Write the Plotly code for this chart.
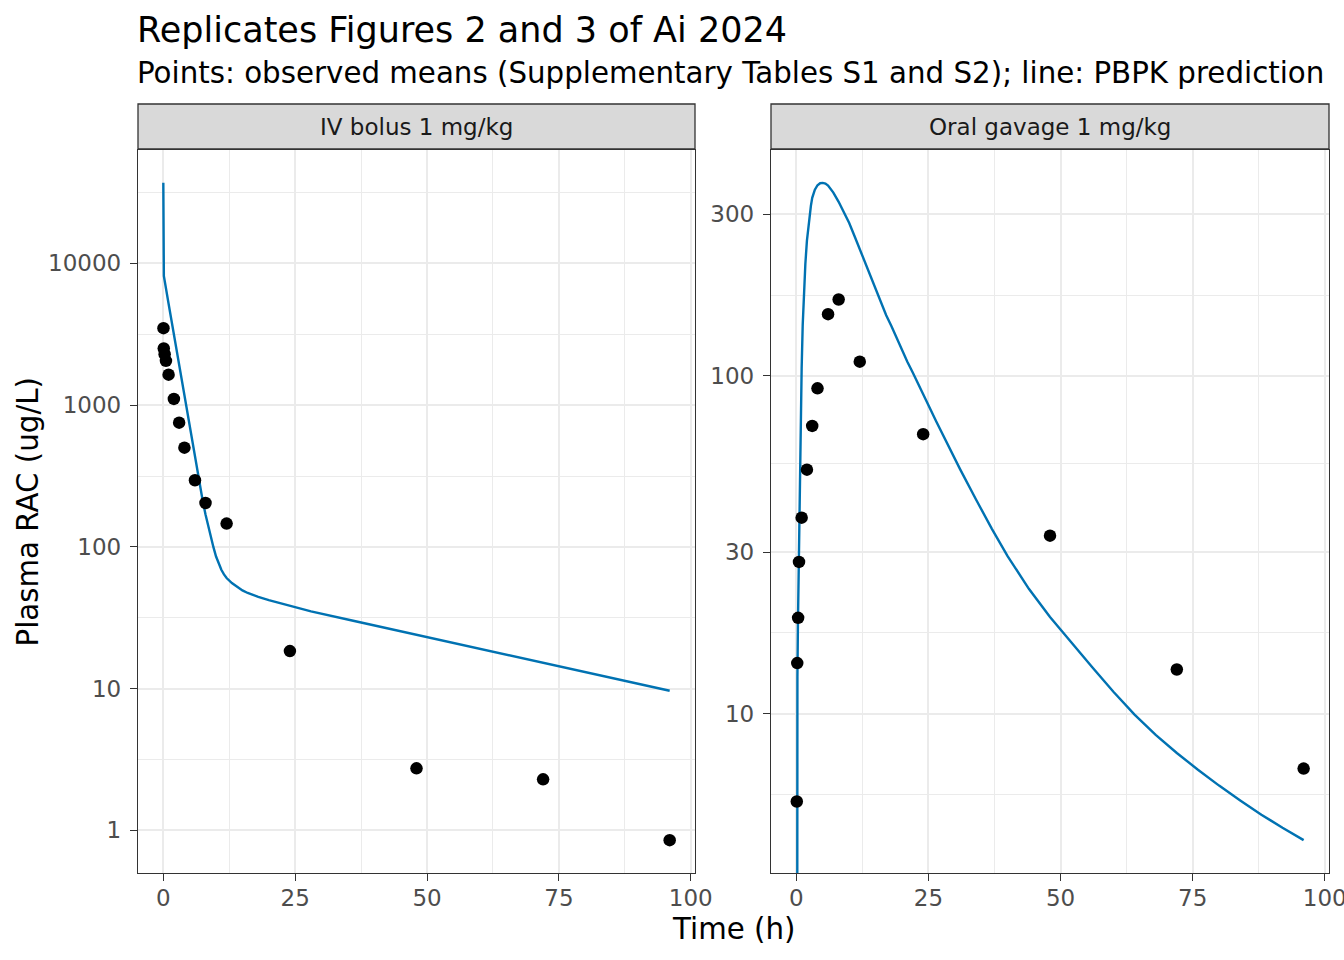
import math

import plotly.graph_objects as go


# observed means (Supplementary Tables S1 and S2)
iv_obs_time = [0.033, 0.083, 0.25, 0.5, 1, 2, 3, 4, 6, 8, 12, 24, 48, 72, 96]
iv_obs_conc = [3490, 2510, 2290, 2055, 1640, 1107, 752, 501, 295, 204, 146, 18.4, 2.74, 2.29, 0.853]

oral_obs_time = [0.083, 0.167, 0.333, 0.5, 1, 2, 3, 4, 6, 8, 12, 24, 48, 72, 96]
oral_obs_conc = [5.49, 14.1, 19.2, 28.1, 38.0, 52.7, 71.0, 91.7, 152, 168, 110, 67.1, 33.6, 13.5, 6.87]

# PBPK prediction
iv_pred_time = [0, 0.1, 1, 2, 3, 4, 5, 6, 7, 7.5, 8, 8.5, 9, 9.5, 10, 10.5, 11, 11.5, 12,
                13, 14, 15, 16, 17, 18, 20, 22, 25, 28, 36, 48, 60, 72, 84, 96]
iv_pred_conc = [37000, 8150, 5190, 3140, 1900, 1151, 692, 422, 260, 208, 169, 140, 117.5,
                99.5, 85.5, 75.9, 68.9, 64.0, 60.3, 55.6, 52.0, 49.3, 47.3, 45.7, 44.4,
                42.1, 40.2, 37.8, 35.1, 30.1, 24.0, 19.1, 15.2, 12.1, 9.66]

oral_pred_time = [0, 0.1, 0.2, 0.3, 0.45, 0.6, 0.75, 0.9, 1.0, 1.2, 1.4, 1.7, 2.0, 2.25,
                  2.5, 2.75, 3.0, 3.5, 4.0, 4.5, 5, 5.5, 6, 6.5, 7, 8, 9, 10, 11, 12, 13,
                  14, 15, 16, 17, 18, 19, 20, 21, 22, 23.5, 25, 26.5, 28, 31, 34, 37, 40,
                  44, 48, 52, 56, 60, 64, 68, 72, 76, 80, 84, 88, 92, 96]
oral_pred_conc = [0, 5.75, 12.9, 18.6, 28.2, 39.8, 60.3, 89.1, 105, 141, 176, 214, 251,
                  275, 299, 318, 336, 355, 366, 371, 372, 370, 365, 356, 348, 327, 305,
                  283, 259, 237, 216, 197, 179.5, 164, 151, 140, 129, 119, 110, 102.3,
                  91.0, 81.7, 73.0, 65.5, 52.8, 43.0, 35.2, 29.2, 23.4, 19.3, 16.2, 13.7,
                  11.6, 9.93, 8.65, 7.64, 6.82, 6.12, 5.53, 5.02, 4.59, 4.22]

panel_titles = ["IV bolus 1 mg/kg", "Oral gavage 1 mg/kg"]
x_ticks = [0, 25, 50, 75, 100]
x_minor = [12.5, 37.5, 62.5, 87.5]
iv_y_ticks = [1, 10, 100, 1000, 10000]
oral_y_ticks = [10, 30, 100, 300]

W, H = 1344, 960
BLUE = "#0072B2"
GRID = "#EBEBEB"
DARK = "#333333"
FONT = "DejaVu Sans"


def px(x):
    return x / W


def py(y):
    return 1 - y / H


def log_range(values):
    # ggplot-style 5% expansion on the log scale
    lv = [math.log10(v) for v in values if v > 0]
    lo, hi = min(lv), max(lv)
    pad = 0.05 * (hi - lo)
    return [lo - pad, hi + pad]


def minor_logs(ticks, rng):
    # midpoints in log space between major breaks, extended by one on each side
    lt = [math.log10(t) for t in ticks]
    lt = [2 * lt[0] - lt[1]] + lt + [2 * lt[-1] - lt[-2]]
    mids = [(a + b) / 2 for a, b in zip(lt[:-1], lt[1:])]
    return [10 ** m for m in mids if rng[0] <= m <= rng[1]]


def lin_range(values):
    lo, hi = min(values), max(values)
    pad = 0.05 * (hi - lo)
    return [lo - pad, hi + pad]


iv_yr = log_range(iv_obs_conc + iv_pred_conc)
oral_yr = log_range(oral_obs_conc + oral_pred_conc)
xr = lin_range(iv_obs_time + iv_pred_time)

left_dom = [px(138), px(695)]
right_dom = [px(771), px(1329)]
y_dom = [py(873), py(150)]
strip_y = [py(149), py(104)]


def floor0(vals):
    # zeros go to -Inf on a log scale, drawn at the panel edge
    return [v if v > 0 else 1e-4 for v in vals]


fig = go.Figure()
fig.add_trace(go.Scatter(x=iv_pred_time, y=floor0(iv_pred_conc), mode="lines",
                         line=dict(color=BLUE, width=2.4), xaxis="x", yaxis="y",
                         showlegend=False))
fig.add_trace(go.Scatter(x=iv_obs_time, y=iv_obs_conc, mode="markers",
                         marker=dict(color="black", size=12.5), xaxis="x", yaxis="y",
                         showlegend=False))
fig.add_trace(go.Scatter(x=oral_pred_time, y=floor0(oral_pred_conc), mode="lines",
                         line=dict(color=BLUE, width=2.4), xaxis="x2", yaxis="y2",
                         showlegend=False))
fig.add_trace(go.Scatter(x=oral_obs_time, y=oral_obs_conc, mode="markers",
                         marker=dict(color="black", size=12.5), xaxis="x2", yaxis="y2",
                         showlegend=False))

tickfont = dict(family=FONT, size=23, color="#4D4D4D")


def x_axis(dom, anchor):
    return dict(domain=dom, anchor=anchor, range=xr, tickmode="array",
                tickvals=x_ticks, ticktext=[str(t) for t in x_ticks],
                ticks="outside", ticklen=7, tickwidth=1.3, tickcolor=DARK,
                tickfont=tickfont, showgrid=True, gridcolor=GRID, gridwidth=2.4,
                minor=dict(tickmode="array", tickvals=x_minor, showgrid=True,
                           gridcolor=GRID, gridwidth=1.2, ticks=""),
                showline=True, linecolor=DARK, linewidth=1.3, mirror=True,
                zeroline=False, automargin=False, ticklabelstandoff=-3,
                ticklabeloverflow="allow")


def y_axis(dom, anchor, ticks, rng):
    return dict(domain=dom, anchor=anchor, type="log", range=rng, tickmode="array",
                tickvals=ticks, ticktext=[str(t) for t in ticks],
                ticks="outside", ticklen=7, tickwidth=1.3, tickcolor=DARK,
                tickfont=tickfont, showgrid=True, gridcolor=GRID, gridwidth=2.4,
                minor=dict(tickmode="array", tickvals=minor_logs(ticks, rng),
                           showgrid=True, gridcolor=GRID, gridwidth=1.2, ticks=""),
                showline=True, linecolor=DARK, linewidth=1.3, mirror=True,
                zeroline=False, automargin=False, ticklabelstandoff=4)


shapes = []
annotations = []
for dom, label in zip([left_dom, right_dom], panel_titles):
    shapes.append(dict(type="rect", xref="paper", yref="paper", x0=dom[0], x1=dom[1],
                       y0=strip_y[0], y1=strip_y[1], fillcolor="#D9D9D9",
                       line=dict(color=DARK, width=1.3), layer="below"))
    annotations.append(dict(text=label, xref="paper", yref="paper",
                            x=(dom[0] + dom[1]) / 2, y=(strip_y[0] + strip_y[1]) / 2,
                            xanchor="center", yanchor="middle", showarrow=False,
                            font=dict(family=FONT, size=23, color="#1A1A1A")))

annotations += [
    dict(text="Replicates Figures 2 and 3 of Ai 2024", xref="paper", yref="paper",
         x=px(135), y=py(30), xanchor="left", yanchor="middle", showarrow=False,
         font=dict(family=FONT, size=35, color="black")),
    dict(text="Points: observed means (Supplementary Tables S1 and S2); line: PBPK prediction",
         xref="paper", yref="paper", x=px(135), y=py(73), xanchor="left",
         yanchor="middle", showarrow=False, font=dict(family=FONT, size=29.3, color="black")),
    dict(text="Time (h)", xref="paper", yref="paper", x=(left_dom[0] + right_dom[1]) / 2,
         y=py(929), xanchor="center", yanchor="middle", showarrow=False,
         font=dict(family=FONT, size=29.3, color="black")),
    dict(text="Plasma RAC (ug/L)", xref="paper", yref="paper", x=px(27),
         y=(y_dom[0] + y_dom[1]) / 2, xanchor="center", yanchor="middle", textangle=-90,
         showarrow=False, font=dict(family=FONT, size=29.3, color="black")),
]

fig.update_layout(
    width=W, height=H,
    margin=dict(l=0, r=0, t=0, b=0),
    paper_bgcolor="white", plot_bgcolor="white",
    font=dict(family=FONT),
    xaxis=x_axis(left_dom, "y"),
    yaxis=y_axis(y_dom, "x", iv_y_ticks, iv_yr),
    xaxis2=x_axis(right_dom, "y2"),
    yaxis2=y_axis(y_dom, "x2", oral_y_ticks, oral_yr),
    shapes=shapes,
    annotations=annotations,
)

# let the figure fill the window exactly (no body margin, no scrollbars)
fig.write_html(
    "out.html",
    config={"displayModeBar": False},
    post_script="document.body.style.margin='0';document.body.style.overflow='hidden';",
)
